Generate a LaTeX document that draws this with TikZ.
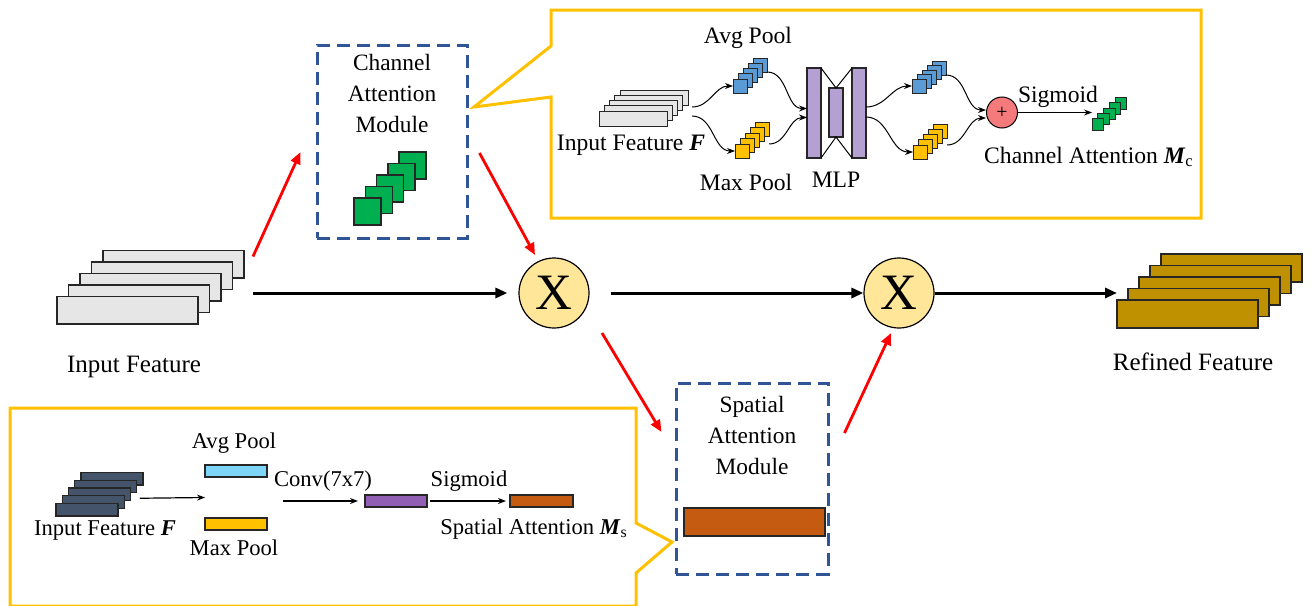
\documentclass[tikz,border=0pt]{standalone}
\usepackage{fontspec}
\setmainfont{Liberation Serif}
\usetikzlibrary{arrows.meta,positioning,calc}

\definecolor{boxblue}{RGB}{47,85,151}
\definecolor{calloutyel}{RGB}{255,192,0}
\definecolor{featgray}{RGB}{231,230,230}
\definecolor{refgold}{RGB}{191,144,0}
\definecolor{chgreen}{RGB}{0,176,80}
\definecolor{poolblue}{RGB}{91,155,213}
\definecolor{poolyel}{RGB}{255,192,0}
\definecolor{mlppurple}{RGB}{180,160,210}
\definecolor{convpurple}{RGB}{145,95,180}
\definecolor{spaorange}{RGB}{197,90,17}
\definecolor{slate}{RGB}{68,84,106}
\definecolor{lightblue}{RGB}{125,214,247}
\definecolor{sumred}{RGB}{244,122,124}
\definecolor{mulyel}{RGB}{255,230,153}

\tikzset{
  featlayer/.style={draw=black!85, line width=0.75pt, anchor=south west, inner sep=0pt, outer sep=0pt},
  poolcube/.style={draw=black!85, line width=0.5pt, anchor=south west, inner sep=0pt, outer sep=0pt, minimum size=#1},
  mlpbar/.style={draw=black!85, fill=mlppurple, line width=0.6pt, minimum width=7pt, inner sep=0pt, outer sep=0pt},
  attnbox/.style={draw=boxblue, line width=1.5pt, dash pattern=on 6.5pt off 3.5pt, inner sep=0pt},
  calloutline/.style={draw=calloutyel, line width=1.5pt},
  mainflow/.style={-{Triangle[length=6pt,width=5pt]}, line width=1.5pt},
  redflow/.style={red, -{Triangle[length=6pt,width=5pt]}, line width=1.4pt},
  smallflow/.style={-{Stealth[length=4pt,width=3pt]}, line width=0.5pt},
  mulnode/.style={circle, draw, fill=mulyel, line width=0.6pt, minimum size=35pt, inner sep=0pt, font=\fontsize{25.5}{26}\selectfont},
  sumnode/.style={circle, draw, fill=sumred, line width=0.5pt, minimum size=15.5pt, inner sep=0pt, font=\fontsize{10}{10}\selectfont},
  mainlbl/.style={font=\fontsize{12.5}{15}\selectfont, inner sep=0pt},
  modlbl/.style={font=\fontsize{11.7}{15.5}\selectfont, align=center, inner sep=0pt},
  cfg/.style={font=\fontsize{11.8}{14}\selectfont, inner sep=0pt},
  sfg/.style={font=\fontsize{11.3}{13}\selectfont, inner sep=0pt},
}

\begin{document}
\begin{tikzpicture}[x=0.5pt, y=-0.5pt]
\useasboundingbox (0,0) rectangle (1311,605);

% callouts
\draw[calloutline] (551,10) -- (1201,10) -- (1201,218) -- (551,218) -- (551,97) -- (474,107) -- (551,46) -- cycle;
\draw[calloutline] (10,408) -- (636,408) -- (636,523) -- (672,542) -- (636,573) -- (636,606) -- (10,606) -- cycle;

% main flow
\foreach \i in {4,...,0}
  \node[featlayer, fill=featgray, minimum width=70.5pt, minimum height=13.75pt] (in\i) at ({57+11.5*\i},{324-11.5*\i}) {};
\node[mainlbl] (inlbl) at (134,367) {Input Feature};

\node[mulnode] (mul1) at (554,293) {X};
\node[mulnode] (mul2) at (899,293) {X};

\foreach \i in {4,...,0}
  \node[featlayer, fill=refgold, minimum width=70.5pt, minimum height=14pt] (ref\i) at ({1117+11*\i},{328-11.5*\i}) {};
\node[mainlbl] (reflbl) at (1193,362) {Refined Feature};

\draw[mainflow] ($(in4.east |- mul1.west)+(4.5pt,0)$) -- ($(mul1.west)+(-5.5pt,0)$);
\draw[mainflow] ($(mul1.east)+(10.5pt,0)$) -- (mul2.west);
\draw[mainflow] (mul2.east) -- (ref0.west |- mul2.east);

% modules
\node[attnbox, minimum width=75pt, minimum height=96.5pt] (cam) at (392,141.5) {};
\node[modlbl] (camlbl) at (392,93) {Channel\\Attention\\Module};
\foreach \i in {4,...,0}
  \node[poolcube=13.5pt, fill=chgreen, line width=0.75pt] (ca\i) at ({354+11.25*\i},{225-11.5*\i}) {};

\node[attnbox, minimum width=76pt, minimum height=95.5pt] (sam) at (752,478.5) {};
\node[modlbl] (samlbl) at (752,435) {Spatial\\Attention\\Module};
\node[featlayer, anchor=center, fill=spaorange, minimum width=70.5pt, minimum height=14pt] (samap) at (754.5,522) {};

\draw[redflow] ($(in4.north east)+(4.5pt,-3pt)$) -- ($(cam.west)+(-7.5pt,-5.25pt)$);
\draw[redflow] ($(cam.east)+(5.5pt,-5.75pt)$) -- ($(mul1)+(-9.5pt,19pt)$);
\draw[redflow] ($(mul1)+(24pt,-20pt)$) -- ($(sam.west)+(-6.5pt,23.25pt)$);
\draw[redflow] ($(sam.east)+(7.5pt,22.75pt)$) -- ($(mul2)+(-4pt,-20pt)$);

% channel attention detail
\foreach \i in {4,...,0}
  \node[featlayer, line width=0.5pt, fill=featgray, minimum width=34pt, minimum height=7.5pt] (cf\i) at ({599+5.25*\i},{126-5.25*\i}) {};
\node[cfg] (cflbl) at (631,145) {Input Feature \textbf{\textit{F}}};
\foreach \i in {4,...,0}
  \node[poolcube=7pt, fill=poolblue] (avgA\i) at ({733+5*\i},{93-5.25*\i}) {};
\foreach \i in {4,...,0}
  \node[poolcube=7pt, fill=poolyel] (maxA\i) at ({735+5*\i},{158-5.5*\i}) {};
\node[cfg] (avglbl) at (748,38) {Avg Pool};
\node[cfg] (maxlbl) at (746,182) {Max Pool};

\node[mlpbar, minimum height=45pt] (mlpL) at (814,113) {};
\node[mlpbar, minimum height=24.5pt] (mlpM) at (836,112.5) {};
\node[mlpbar, minimum height=45pt] (mlpR) at (859,113) {};
\draw[line width=0.5pt] (mlpL.north east) -- (mlpM.north) -- (mlpR.north west);
\draw[line width=0.5pt] (mlpL.south east) -- (mlpM.south) -- (mlpR.south west);
\node[cfg] (mlplbl) at (836,180) {MLP};

\foreach \i in {4,...,0}
  \node[poolcube=7pt, fill=poolblue] (avgB\i) at ({912+5*\i},{93-4.5*\i}) {};
\foreach \i in {4,...,0}
  \node[poolcube=7pt, fill=poolyel] (maxB\i) at ({913+5*\i},{159-5.25*\i}) {};

\node[sumnode] (sum) at (1002,112.5) {+};
\foreach \i in {4,...,0}
  \node[poolcube=5.75pt, fill=chgreen] (cmA\i) at ({1092+5.75*\i},{130-5.25*\i}) {};
\node[cfg] (sigA) at (1058,97) {Sigmoid};
\node[cfg] (cmlbl) at (1089,157) {Channel Attention \textbf{\textit{M}}\textsubscript{c}};

\coordinate (cfout1) at (692,107);
\coordinate (cfout2) at (692,116);
\draw[smallflow] (cfout1) to[out=0, in=180] (avgA0.west);
\draw[smallflow] (cfout2) to[out=0, in=180] (maxA0.west);
\draw[smallflow] (avgA4.south east) to[out=0, in=180] ($(mlpL.west)+(0,2.25pt)$);
\draw[smallflow] (maxA4.east |- maxA0.north) to[out=0, in=180] ($(mlpL.west)+(0,-2.25pt)$);
\draw[smallflow] ($(mlpR.east)+(0,3pt)$) to[out=0, in=180] (avgB0.west);
\draw[smallflow] ($(mlpR.east)+(0,-2pt)$) to[out=0, in=180] (maxB0.west);
\draw[smallflow] (avgB4.south east) to[out=0, in=180] ($(sum.west)+(0,1.25pt)$);
\draw[smallflow] (maxB4.east |- maxB0.north) to[out=0, in=180] ($(sum.west)+(0,-2.75pt)$);
\draw[smallflow] (sum.east) -- (cmA0.west |- sum.east);

% spatial attention detail
\foreach \i in {4,...,0}
  \node[featlayer, line width=0.6pt, fill=slate, minimum width=31pt, minimum height=6.25pt] (sf\i) at ({56+6.25*\i},{516-7.75*\i}) {};
\node[sfg] (sflbl) at (105,530) {Input Feature \textbf{\textit{F}}};
\node[featlayer, anchor=center, line width=0.6pt, fill=lightblue, minimum width=31pt, minimum height=6pt] (avgS) at (236,471) {};
\node[featlayer, anchor=center, line width=0.6pt, fill=poolyel, minimum width=31pt, minimum height=6pt] (maxS) at (236,524) {};
\node[featlayer, anchor=center, line width=0.6pt, fill=convpurple, minimum width=31pt, minimum height=6pt] (convS) at (396,501) {};
\node[featlayer, anchor=center, line width=0.6pt, fill=spaorange, minimum width=31.5pt, minimum height=6pt] (smapS) at (541.5,501) {};
\node[sfg] (avgSlbl) at (234,443) {Avg Pool};
\node[sfg] (maxSlbl) at (234,548) {Max Pool};
\node[sfg] (convlbl) at (323,481) {Conv(7x7)};
\node[sfg] (sigS) at (469,481) {Sigmoid};
\node[sfg] (smlbl) at (534,529) {Spatial Attention \textbf{\textit{M}}\textsubscript{s}};

\draw[smallflow, line width=0.6pt] ($(sf3.south east)+(1.5pt,-2.75pt)$) -- ($(avgS.south west)!0.5!(maxS.north west)$);
\draw[smallflow, line width=0.6pt] ($(avgS.east |- convS.west)+(8pt,0)$) -- ($(convS.west)+(-3.5pt,0)$);
\draw[smallflow, line width=0.6pt, shorten >=2pt, shorten <=1.5pt] (convS.east) -- (smapS.west);
\end{tikzpicture}
\end{document}
